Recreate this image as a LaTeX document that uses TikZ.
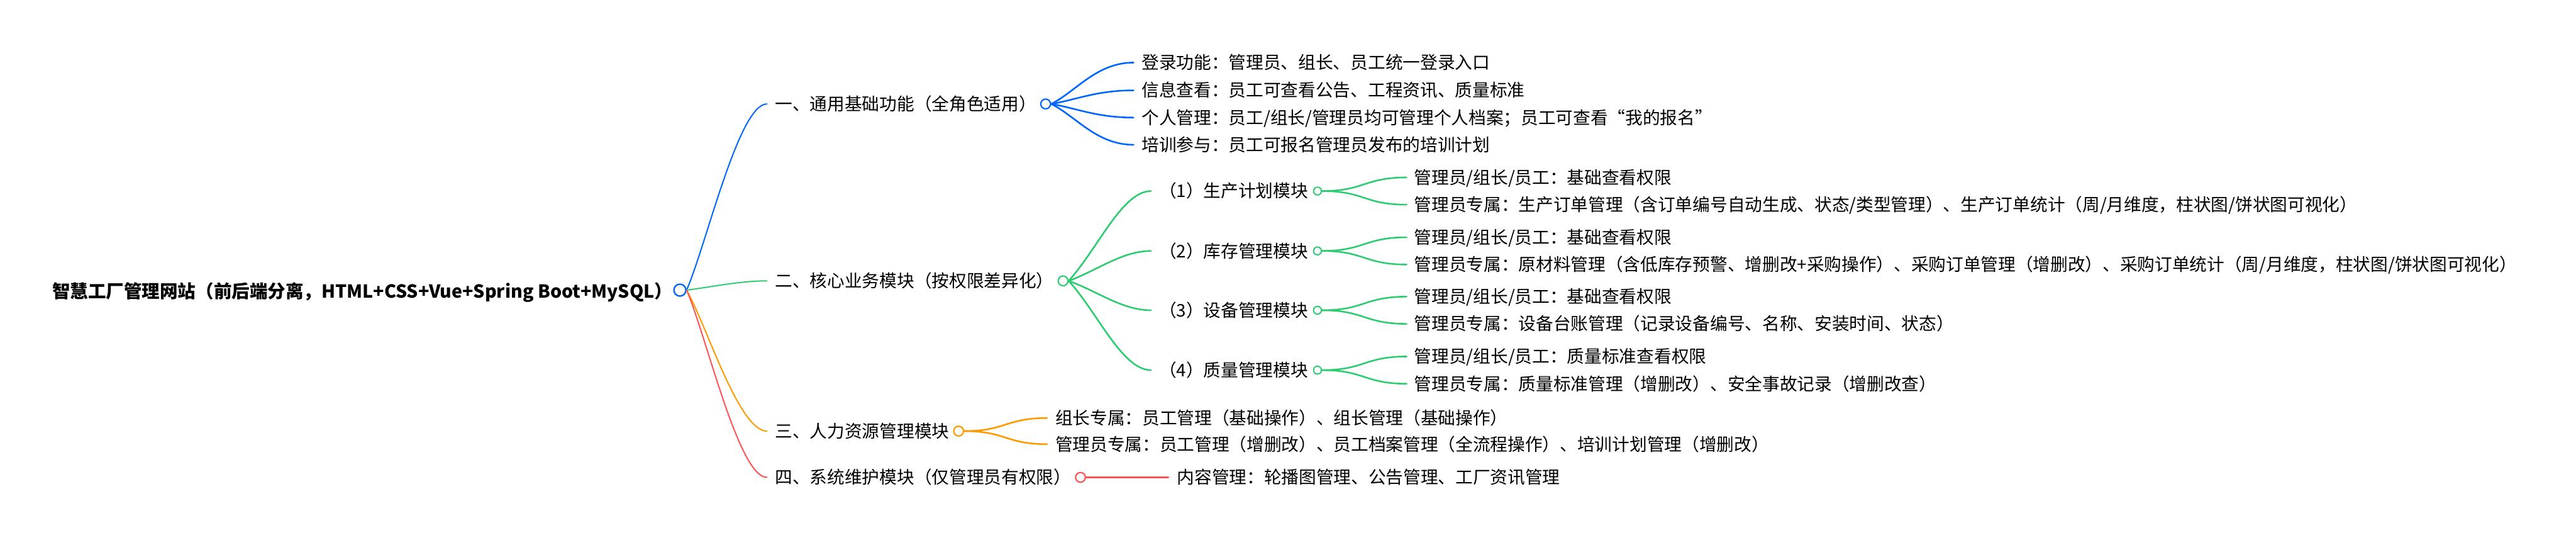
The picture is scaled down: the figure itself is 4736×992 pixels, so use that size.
\documentclass[tikz,border=0pt]{standalone}
\usepackage{fontspec}
\setmainfont{Noto Sans CJK SC}
\usetikzlibrary{calc}
\definecolor{mmblue}{HTML}{0066FF}
\definecolor{mmgreen}{HTML}{2ECC71}
\definecolor{mmorange}{HTML}{FF9900}
\definecolor{mmred}{HTML}{FF5252}
% #1 style, #2 from, #3 to, #4 start fraction (along line), #5 end fraction (horizontal)
\newcommand\mmcurve[5]{\draw[#1] (#2) .. controls ($(#2)!#4!(#3)$) and ($(#3)!#5!(#3 -| #2)$) .. (#3);}
% horizontal start
\newcommand\mmhcurve[5]{\draw[#1] (#2) .. controls ($(#2)!#4!(#2 -| #3)$) and ($(#3)!#5!(#3 -| #2)$) .. (#3);}
\begin{document}
\begin{tikzpicture}[x=1pt,y=-1pt,
  txt/.style={anchor=base west, inner sep=0pt, font=\fontsize{32}{38}\selectfont, text=black},
  roottxt/.style={txt, font=\fontsize{33}{39}\selectfont\bfseries},
  dotroot/.style={circle, draw=#1, fill=white, line width=2.7pt, inner sep=0pt, minimum size=22pt},
  dotone/.style={circle, draw=#1, fill=white, line width=2.5pt, inner sep=0pt, minimum size=18pt},
  dottwo/.style={circle, draw=#1, fill=white, line width=2.3pt, inner sep=0pt, minimum size=14.5pt},
  rootline/.style={line width=2.3pt, line cap=round},
  subline/.style={line width=3pt, line cap=round}
]
\useasboundingbox[fill=white] (0,0) rectangle (4736,992);

% ---------- root ----------
\coordinate (r) at (96,535);
\node[roottxt] (rt) at ($(r)+(0,12)$) {智慧工厂管理网站（前后端分离，HTML+CSS+Vue+Spring Boot+MySQL）};
\coordinate (rcpos) at (1250,533);

% ---------- level 1 ----------
\coordinate (a) at (1410,191);
\node[txt] (at) at ($(a)+(15,12)$) {一、通用基础功能（全角色适用）};
\coordinate (b) at (1410,516);
\node[txt] (bt) at ($(b)+(15,12)$) {二、核心业务模块（按权限差异化）};
\coordinate (c) at (1410,792);
\node[txt] (ct) at ($(c)+(15,12)$) {三、人力资源管理模块};
\coordinate (d) at (1410,877);
\node[txt] (dt) at ($(d)+(15,12)$) {四、系统维护模块（仅管理员有权限）};

% ---------- leaves of a ----------
\coordinate (a1) at (2084,115);
\coordinate (a2) at (2084,166);
\coordinate (a3) at (2084,216);
\coordinate (a4) at (2084,266);
\node[txt] (a1t) at ($(a1)+(15,12)$) {登录功能：管理员、组长、员工统一登录入口};
\node[txt] (a2t) at ($(a2)+(15,12)$) {信息查看：员工可查看公告、工程资讯、质量标准};
\node[txt] (a3t) at ($(a3)+(15,12)$) {个人管理：员工/组长/管理员均可管理个人档案；员工可查看“我的报名”};
\node[txt] (a4t) at ($(a4)+(15,12)$) {培训参与：员工可报名管理员发布的培训计划};

% ---------- sub modules of b ----------
\coordinate (b1) at (2116,351);
\coordinate (b2) at (2116,461);
\coordinate (b3) at (2116,570);
\coordinate (b4) at (2116,680);
\node[txt] (b1t) at ($(b1)+(15,12)$) {（1）生产计划模块};
\node[txt] (b2t) at ($(b2)+(15,12)$) {（2）库存管理模块};
\node[txt] (b3t) at ($(b3)+(15,12)$) {（3）设备管理模块};
\node[txt] (b4t) at ($(b4)+(15,12)$) {（4）质量管理模块};

\coordinate (b1a) at (2586,326);
\coordinate (b1b) at (2586,376);
\coordinate (b2a) at (2586,436);
\coordinate (b2b) at (2586,486);
\coordinate (b3a) at (2586,545);
\coordinate (b3b) at (2586,595);
\coordinate (b4a) at (2586,655);
\coordinate (b4b) at (2586,705);
\node[txt] (b1at) at ($(b1a)+(14,12)$) {管理员/组长/员工：基础查看权限};
\node[txt] (b1bt) at ($(b1b)+(14,12)$) {管理员专属：生产订单管理（含订单编号自动生成、状态/类型管理）、生产订单统计（周/月维度，柱状图/饼状图可视化）};
\node[txt] (b2at) at ($(b2a)+(14,12)$) {管理员/组长/员工：基础查看权限};
\node[txt] (b2bt) at ($(b2b)+(14,12)$) {管理员专属：原材料管理（含低库存预警、增删改+采购操作）、采购订单管理（增删改）、采购订单统计（周/月维度，柱状图/饼状图可视化）};
\node[txt] (b3at) at ($(b3a)+(14,12)$) {管理员/组长/员工：基础查看权限};
\node[txt] (b3bt) at ($(b3b)+(14,12)$) {管理员专属：设备台账管理（记录设备编号、名称、安装时间、状态）};
\node[txt] (b4at) at ($(b4a)+(14,12)$) {管理员/组长/员工：质量标准查看权限};
\node[txt] (b4bt) at ($(b4b)+(14,12)$) {管理员专属：质量标准管理（增删改）、安全事故记录（增删改查）};

% ---------- leaves of c ----------
\coordinate (c1) at (1925,768);
\coordinate (c2) at (1925,816);
\node[txt] (c1t) at ($(c1)+(15,12)$) {组长专属：员工管理（基础操作）、组长管理（基础操作）};
\node[txt] (c2t) at ($(c2)+(15,12)$) {管理员专属：员工管理（增删改）、员工档案管理（全流程操作）、培训计划管理（增删改）};

% ---------- leaf of d ----------
\coordinate (d1) at (2148,877);
\node[txt] (d1t) at ($(d1)+(16,12)$) {内容管理：轮播图管理、公告管理、工厂资讯管理};

% ---------- circles ----------
\path (rcpos) node[dotroot=mmblue] (rc) {};
\path ($(a -| at.east)+(17,0)$) node[dotone=mmblue] (ac) {};
\path ($(b -| bt.east)+(17,0)$) node[dotone=mmgreen] (bc) {};
\path ($(c -| ct.east)+(17,0)$) node[dotone=mmorange] (cc) {};
\path ($(d -| dt.east)+(17,0)$) node[dotone=mmred] (dc) {};
\path ($(b1 -| b1t.east)+(17,0)$) node[dottwo=mmgreen] (b1c) {};
\path ($(b2 -| b2t.east)+(17,0)$) node[dottwo=mmgreen] (b2c) {};
\path ($(b3 -| b3t.east)+(17,0)$) node[dottwo=mmgreen] (b3c) {};
\path ($(b4 -| b4t.east)+(17,0)$) node[dottwo=mmgreen] (b4c) {};

% ---------- connectors ----------
\mmcurve{rootline,mmblue}{rc.east}{a}{0.25}{0.35}
\mmcurve{rootline,mmgreen}{rc.east}{b}{0.25}{0.35}
\mmcurve{rootline,mmorange}{rc.east}{c}{0.25}{0.35}
\mmcurve{rootline,mmred}{rc.east}{d}{0.25}{0.35}

\foreach \t in {a1,a2,a3,a4}{\mmcurve{subline,mmblue}{ac.east}{\t}{0.3}{0.45}}
\foreach \t in {b1,b2,b3,b4}{\mmcurve{subline,mmgreen}{bc.east}{\t}{0.35}{0.35}}
\mmhcurve{subline,mmgreen}{b1c.east}{b1a}{0.5}{0.5}
\mmhcurve{subline,mmgreen}{b1c.east}{b1b}{0.5}{0.5}
\mmhcurve{subline,mmgreen}{b2c.east}{b2a}{0.5}{0.5}
\mmhcurve{subline,mmgreen}{b2c.east}{b2b}{0.5}{0.5}
\mmhcurve{subline,mmgreen}{b3c.east}{b3a}{0.5}{0.5}
\mmhcurve{subline,mmgreen}{b3c.east}{b3b}{0.5}{0.5}
\mmhcurve{subline,mmgreen}{b4c.east}{b4a}{0.5}{0.5}
\mmhcurve{subline,mmgreen}{b4c.east}{b4b}{0.5}{0.5}
\mmhcurve{subline,mmorange}{cc.east}{c1}{0.5}{0.5}
\mmhcurve{subline,mmorange}{cc.east}{c2}{0.5}{0.5}
\draw[subline,mmred] (dc.east) -- (d1);
\end{tikzpicture}
\end{document}
